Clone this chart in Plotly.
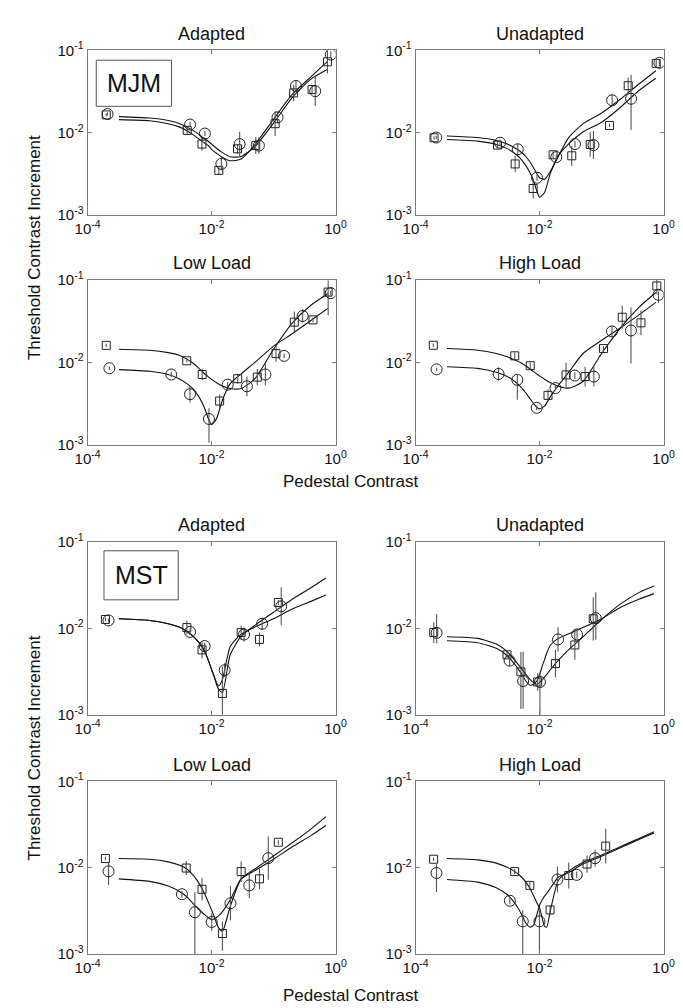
import plotly.graph_objects as go

# ---------------- data ----------------
# x grid at which the fitted curves were read off the picture
fit_x_mjm = [3.2e-4, 1e-3, 2e-3, 3e-3, 4e-3, 5e-3, 6e-3, 7e-3, 8e-3, 9e-3, 0.01, 0.012,
             0.015, 0.02, 0.03, 0.05, 0.1, 0.2, 0.4, 0.75]
fit_x_mst = [3.2e-4, 1e-3, 2e-3, 3e-3, 4e-3, 5e-3, 6e-3, 7e-3, 8e-3, 9e-3, 0.01, 0.011,
             0.012, 0.013, 0.015, 0.02, 0.03, 0.05, 0.1, 0.2, 0.4, 0.7]

# ---- MJM Adapted
mjm_ad_circ_x = [2.1e-4, 4.5e-3, 7.8e-3, 0.0144, 0.0284, 0.058, 0.116, 0.23, 0.47, 0.84]
mjm_ad_circ_y = [0.0169, 0.0126, 0.0098, 0.0042, 0.0073, 0.0070, 0.0154, 0.037, 0.032, 0.089]
mjm_ad_circ_eu = [0.02, 0.03, 0.03, 0.08, 0.15, 0.1, 0.07, 0.06, 0.18, 0.04]
mjm_ad_circ_ed = [0.02, 0.03, 0.03, 0.08, 0.15, 0.1, 0.07, 0.06, 0.18, 0.04]
mjm_ad_sq_x = [2.0e-4, 4.05e-3, 7.0e-3, 0.0131, 0.0262, 0.0516, 0.106, 0.211, 0.418, 0.741]
mjm_ad_sq_y = [0.0165, 0.0107, 0.0073, 0.0035, 0.0064, 0.0070, 0.0129, 0.0305, 0.0335, 0.0727]
mjm_ad_sq_eu = [0.02, 0.04, 0.08, 0.05, 0.06, 0.1, 0.15, 0.1, 0.04, 0.14]
mjm_ad_sq_ed = [0.02, 0.04, 0.08, 0.05, 0.06, 0.1, 0.15, 0.1, 0.04, 0.14]
mjm_ad_fit1 = [0.0157, 0.0151, 0.0141, 0.0130, 0.0118, 0.0107, 0.00977, 0.00891, 0.00837, 0.00778,
               0.00730, 0.00649, 0.00575, 0.00512, 0.00516, 0.00679, 0.0131, 0.0267, 0.0448, 0.0589]
mjm_ad_fit2 = [0.01445, 0.0140, 0.0129, 0.0118, 0.0106, 0.00950, 0.00861, 0.00793, 0.00737, 0.00692,
               0.00631, 0.00566, 0.00502, 0.00458, 0.00480, 0.00716, 0.0146, 0.0292, 0.0478, 0.0740]

# ---- MJM Unadapted
mjm_un_circ_x = [2.15e-4, 2.30e-3, 4.44e-3, 9.08e-3, 0.0186, 0.0372, 0.0738, 0.148, 0.299, 0.855]
mjm_un_circ_y = [0.00877, 0.00757, 0.00631, 0.00285, 0.00507, 0.0073, 0.0071, 0.0248, 0.0259, 0.0707]
mjm_un_circ_eu = [0.02, 0.04, 0.07, 0.04, 0.03, 0.04, 0.17, 0.07, 0.29, 0.04]
mjm_un_circ_ed = [0.02, 0.04, 0.07, 0.04, 0.03, 0.04, 0.17, 0.07, 0.38, 0.04]
mjm_un_sq_x = [1.98e-4, 2.09e-3, 4.03e-3, 7.87e-3, 0.0165, 0.033, 0.0655, 0.134, 0.2685, 0.76]
mjm_un_sq_y = [0.0087, 0.0071, 0.00419, 0.00211, 0.00541, 0.00526, 0.00723, 0.01228, 0.0373, 0.0695]
mjm_un_sq_eu = [0.02, 0.04, 0.1, 0.12, 0.04, 0.12, 0.15, 0.02, 0.1, 0.04]
mjm_un_sq_ed = [0.02, 0.04, 0.1, 0.12, 0.04, 0.12, 0.15, 0.02, 0.1, 0.04]
mjm_un_fit1 = [0.00916, 0.00877, 0.00807, 0.00730, 0.00654, 0.00586, 0.00516, 0.00442, 0.00375, 0.00321,
               0.00285, 0.00273, 0.00343, 0.00526, 0.00743, 0.01023, 0.01346, 0.0203, 0.0326, 0.0460]
mjm_un_fit2 = [0.00830, 0.00793, 0.00723, 0.00643, 0.00561, 0.00480, 0.00400, 0.00327, 0.00261, 0.00198,
               0.00165, 0.00189, 0.00327, 0.00516, 0.00891, 0.01285, 0.01738, 0.0255, 0.0391, 0.0567]

# ---- MJM Low Load
mjm_lo_circ_x = [2.25e-4, 2.24e-3, 4.49e-3, 9.08e-3, 0.0182, 0.0372, 0.0738, 0.148, 0.295, 0.836]
mjm_lo_circ_y = [0.00849, 0.00713, 0.00412, 0.00206, 0.00537, 0.00513, 0.00713, 0.0120, 0.0366, 0.0693]
mjm_lo_circ_eu = [0.02, 0.03, 0.1, 0.13, 0.03, 0.12, 0.13, 0.03, 0.08, 0.03]
mjm_lo_circ_ed = [0.02, 0.03, 0.1, 0.29, 0.03, 0.12, 0.13, 0.03, 0.08, 0.03]
mjm_lo_sq_x = [2.0e-4, 3.98e-3, 7.06e-3, 0.0135, 0.0264, 0.0547, 0.1094, 0.2163, 0.4325, 0.76]
mjm_lo_sq_y = [0.0161, 0.01047, 0.00713, 0.0034, 0.00634, 0.00663, 0.01279, 0.0308, 0.0328, 0.0713]
mjm_lo_sq_eu = [0.02, 0.02, 0.07, 0.08, 0.06, 0.1, 0.1, 0.13, 0.03, 0.14]
mjm_lo_sq_ed = [0.02, 0.02, 0.07, 0.08, 0.06, 0.1, 0.1, 0.13, 0.03, 0.28]
mjm_lo_fit1 = [0.01442, 0.01403, 0.01315, 0.01222, 0.01096, 0.00982, 0.00871, 0.00781, 0.00713, 0.00663,
               0.00622, 0.00567, 0.00518, 0.00482, 0.00482, 0.00634, 0.01442, 0.0299, 0.0494, 0.0681]
mjm_lo_fit2 = [0.00818, 0.00781, 0.00713, 0.00634, 0.00552, 0.00482, 0.00401, 0.00328, 0.00259, 0.00202,
               0.00176, 0.00207, 0.00350, 0.00552, 0.00726, 0.0100, 0.01578, 0.0223, 0.0322, 0.0452]

# ---- MJM High Load
mjm_hi_circ_x = [2.18e-4, 2.18e-3, 4.37e-3, 8.97e-3, 0.018, 0.037, 0.075, 0.147, 0.298, 0.826]
mjm_hi_circ_y = [0.00824, 0.00724, 0.00614, 0.00281, 0.00488, 0.00692, 0.00673, 0.0238, 0.0244, 0.0661]
mjm_hi_circ_eu = [0.02, 0.08, 0.06, 0.03, 0.03, 0.04, 0.12, 0.06, 0.28, 0.04]
mjm_hi_circ_ed = [0.02, 0.08, 0.24, 0.03, 0.03, 0.04, 0.12, 0.06, 0.40, 0.10]
mjm_hi_sq_x = [1.93e-4, 3.97e-3, 7.06e-3, 0.01365, 0.0267, 0.0542, 0.1074, 0.2155, 0.4315, 0.778]
mjm_hi_sq_y = [0.01614, 0.01202, 0.00912, 0.00398, 0.00705, 0.00673, 0.01472, 0.0353, 0.0302, 0.0847]
mjm_hi_sq_eu = [0.02, 0.04, 0.04, 0.07, 0.15, 0.12, 0.03, 0.14, 0.15, 0.1]
mjm_hi_sq_ed = [0.02, 0.04, 0.04, 0.07, 0.15, 0.12, 0.03, 0.14, 0.15, 0.1]
mjm_hi_fit1 = [0.01472, 0.01406, 0.01282, 0.01169, 0.01067, 0.00991, 0.00904, 0.00832, 0.00773, 0.00724,
               0.00686, 0.00625, 0.00565, 0.00515, 0.00488, 0.00586, 0.01282, 0.0261, 0.0466, 0.0705]
mjm_hi_fit2 = [0.00887, 0.00847, 0.00759, 0.00673, 0.00586, 0.00501, 0.00425, 0.00363, 0.00316, 0.00286,
               0.00273, 0.00294, 0.00387, 0.00525, 0.00773, 0.01282, 0.01854, 0.0261, 0.0377, 0.0535]

# ---- MST Adapted
mst_ad_circ_x = [2.18e-4, 4.50e-3, 7.73e-3, 0.01626, 0.0334, 0.0655, 0.133]
mst_ad_circ_y = [0.01233, 0.00908, 0.00624, 0.00327, 0.00847, 0.0113, 0.01795]
mst_ad_circ_eu = [0.02, 0.04, 0.04, 0.08, 0.08, 0.07, 0.22]
mst_ad_circ_ed = [0.02, 0.04, 0.04, 0.08, 0.08, 0.07, 0.22]
mst_ad_sq_x = [1.94e-4, 3.99e-3, 7.02e-3, 0.01496, 0.030, 0.0594, 0.1194]
mst_ad_sq_y = [0.01265, 0.01019, 0.00562, 0.00176, 0.00893, 0.00743, 0.0199]
mst_ad_sq_eu = [0.02, 0.08, 0.1, 0.31, 0.08, 0.08, 0.03]
mst_ad_sq_ed = [0.02, 0.08, 0.1, 0.6, 0.08, 0.08, 0.03]
mst_ad_fit1 = [0.01288, 0.01233, 0.01130, 0.01035, 0.00924, 0.00811, 0.00711, 0.00614, 0.00515, 0.00414,
               0.00333, 0.00275, 0.00225, 0.00197, 0.00181, 0.00493, 0.00811, 0.01081, 0.01535, 0.0217,
               0.0295, 0.0383]
mst_ad_fit2 = [0.01288, 0.01233, 0.01130, 0.01035, 0.00924, 0.00811, 0.00711, 0.00614, 0.00515, 0.00414,
               0.00333, 0.00280, 0.00235, 0.00215, 0.00256, 0.00614, 0.00855, 0.01035, 0.01288, 0.01671,
               0.0205, 0.0243]

# ---- MST Unadapted
mst_un_circ_x = [2.18e-4, 3.28e-3, 5.42e-3, 0.01012, 0.01982, 0.0402, 0.0805]
mst_un_circ_y = [0.00885, 0.00422, 0.00245, 0.00239, 0.00743, 0.00848, 0.01309]
mst_un_circ_eu = [0.22, 0.06, 0.34, 0.10, 0.14, 0.05, 0.30]
mst_un_circ_ed = [0.12, 0.06, 0.32, 0.60, 0.14, 0.05, 0.25]
mst_un_sq_x = [1.96e-4, 2.98e-3, 4.99e-3, 0.00931, 0.018, 0.037, 0.0733]
mst_un_sq_y = [0.00893, 0.00493, 0.00313, 0.00239, 0.0039, 0.00641, 0.01288]
mst_un_sq_eu = [0.12, 0.04, 0.23, 0.10, 0.16, 0.17, 0.25]
mst_un_sq_ed = [0.12, 0.04, 0.43, 0.10, 0.16, 0.17, 0.25]
mst_un_fit1 = [0.00798, 0.00764, 0.00658, 0.00538, 0.00425, 0.00348, 0.00292, 0.00256, 0.00235, 0.00225,
               0.00235, 0.00252, 0.00273, 0.00292, 0.00333, 0.00425, 0.00573, 0.00798, 0.01265, 0.01905,
               0.0259, 0.0308]
mst_un_fit2 = [0.00718, 0.00681, 0.00587, 0.00481, 0.00380, 0.00305, 0.00245, 0.00219, 0.00225, 0.00245,
               0.00292, 0.00364, 0.00433, 0.00515, 0.00641, 0.00764, 0.00869, 0.01019, 0.01288, 0.01746,
               0.0217, 0.0252]

# ---- MST Low Load
mst_lo_circ_x = [2.18e-4, 3.33e-3, 5.38e-3, 0.01007, 0.0202, 0.0406, 0.0823]
mst_lo_circ_y = [0.00908, 0.00493, 0.00305, 0.00235, 0.00387, 0.00624, 0.01288]
mst_lo_circ_eu = [0.10, 0.04, 0.23, 0.10, 0.20, 0.15, 0.25]
mst_lo_circ_ed = [0.16, 0.04, 0.80, 0.10, 0.20, 0.15, 0.25]
mst_lo_sq_x = [1.94e-4, 3.90e-3, 7.02e-3, 0.01496, 0.030, 0.0594, 0.1194]
mst_lo_sq_y = [0.01276, 0.00991, 0.00562, 0.00173, 0.00901, 0.00743, 0.0197]
mst_lo_sq_eu = [0.02, 0.08, 0.13, 0.14, 0.12, 0.12, 0.03]
mst_lo_sq_ed = [0.02, 0.08, 0.13, 0.20, 0.12, 0.12, 0.03]
mst_lo_fit1 = [0.01276, 0.01253, 0.01169, 0.01072, 0.00966, 0.00826, 0.00694, 0.00573, 0.00472, 0.00387,
               0.00324, 0.00273, 0.00229, 0.00201, 0.00184, 0.00354, 0.00743, 0.00966, 0.01368, 0.01941,
               0.0280, 0.0390]
mst_lo_fit2 = [0.00743, 0.00694, 0.00614, 0.00533, 0.00460, 0.00387, 0.00339, 0.00305, 0.00280, 0.00261,
               0.00250, 0.00254, 0.00265, 0.00277, 0.00310, 0.00422, 0.00743, 0.00925, 0.01253, 0.01746,
               0.0235, 0.0308]

# ---- MST High Load
mst_hi_circ_x = [2.17e-4, 3.31e-3, 5.35e-3, 9.93e-3, 0.0194, 0.0397, 0.0785]
mst_hi_circ_y = [0.00869, 0.00414, 0.00239, 0.00239, 0.00731, 0.00826, 0.01288]
mst_hi_circ_eu = [0.10, 0.04, 0.13, 0.13, 0.15, 0.04, 0.10]
mst_hi_circ_ed = [0.22, 0.04, 0.60, 0.60, 0.15, 0.04, 0.10]
mst_hi_sq_x = [1.95e-4, 3.96e-3, 6.95e-3, 0.01475, 0.0295, 0.0582, 0.1164]
mst_hi_sq_y = [0.01253, 0.00901, 0.00624, 0.00324, 0.00811, 0.01102, 0.01778]
mst_hi_sq_eu = [0.02, 0.03, 0.04, 0.05, 0.15, 0.10, 0.20]
mst_hi_sq_ed = [0.02, 0.03, 0.04, 0.05, 0.15, 0.10, 0.20]
mst_hi_fit1 = [0.01276, 0.01233, 0.01130, 0.01009, 0.00901, 0.00791, 0.00681, 0.00573, 0.00472, 0.00396,
               0.00339, 0.00261, 0.00210, 0.00205, 0.00324, 0.00711, 0.00925, 0.01151, 0.0140, 0.0175,
               0.0218, 0.0260]
mst_hi_fit2 = [0.00731, 0.00681, 0.00587, 0.00489, 0.00387, 0.00297, 0.00229, 0.00205, 0.00216, 0.00285,
               0.00370, 0.00422, 0.00468, 0.00502, 0.00582, 0.00776, 0.00885, 0.01102, 0.0136, 0.0170,
               0.0212, 0.0252]

panel_titles = ["Adapted", "Unadapted", "Low Load", "High Load",
                "Adapted", "Unadapted", "Low Load", "High Load"]
subject_labels = ["MJM", "MST"]
x_tickvals = [1e-4, 1e-2, 1]
x_ticktext = ["10<sup>-4</sup>", "10<sup>-2</sup>", "10<sup>0</sup>"]
y_tickvals = [1e-3, 1e-2, 1e-1]
y_ticktext = ["10<sup>-3</sup>", "10<sup>-2</sup>", "10<sup>-1</sup>"]
x_title = "Pedestal Contrast"
y_title = "Threshold Contrast Increment"

panels = [
    (fit_x_mjm, mjm_ad_circ_x, mjm_ad_circ_y, mjm_ad_circ_eu, mjm_ad_circ_ed,
     mjm_ad_sq_x, mjm_ad_sq_y, mjm_ad_sq_eu, mjm_ad_sq_ed, mjm_ad_fit1, mjm_ad_fit2),
    (fit_x_mjm, mjm_un_circ_x, mjm_un_circ_y, mjm_un_circ_eu, mjm_un_circ_ed,
     mjm_un_sq_x, mjm_un_sq_y, mjm_un_sq_eu, mjm_un_sq_ed, mjm_un_fit1, mjm_un_fit2),
    (fit_x_mjm, mjm_lo_circ_x, mjm_lo_circ_y, mjm_lo_circ_eu, mjm_lo_circ_ed,
     mjm_lo_sq_x, mjm_lo_sq_y, mjm_lo_sq_eu, mjm_lo_sq_ed, mjm_lo_fit1, mjm_lo_fit2),
    (fit_x_mjm, mjm_hi_circ_x, mjm_hi_circ_y, mjm_hi_circ_eu, mjm_hi_circ_ed,
     mjm_hi_sq_x, mjm_hi_sq_y, mjm_hi_sq_eu, mjm_hi_sq_ed, mjm_hi_fit1, mjm_hi_fit2),
    (fit_x_mst, mst_ad_circ_x, mst_ad_circ_y, mst_ad_circ_eu, mst_ad_circ_ed,
     mst_ad_sq_x, mst_ad_sq_y, mst_ad_sq_eu, mst_ad_sq_ed, mst_ad_fit1, mst_ad_fit2),
    (fit_x_mst, mst_un_circ_x, mst_un_circ_y, mst_un_circ_eu, mst_un_circ_ed,
     mst_un_sq_x, mst_un_sq_y, mst_un_sq_eu, mst_un_sq_ed, mst_un_fit1, mst_un_fit2),
    (fit_x_mst, mst_lo_circ_x, mst_lo_circ_y, mst_lo_circ_eu, mst_lo_circ_ed,
     mst_lo_sq_x, mst_lo_sq_y, mst_lo_sq_eu, mst_lo_sq_ed, mst_lo_fit1, mst_lo_fit2),
    (fit_x_mst, mst_hi_circ_x, mst_hi_circ_y, mst_hi_circ_eu, mst_hi_circ_ed,
     mst_hi_sq_x, mst_hi_sq_y, mst_hi_sq_eu, mst_hi_sq_ed, mst_hi_fit1, mst_hi_fit2),
]

# ---------------- layout geometry (pixels) ----------------
W, H = 683, 1008
COLS = [(69, 326), (409, 666)]
ROWS = [(32, 200), (266, 434), (533, 709), (777, 953)]
FONT = "Liberation Sans, Arial, Helvetica, sans-serif"
LINE_GRAY = "#7a7a7a"


def px(x):
    return x / W


def py(y):
    return 1 - y / H


fig = go.Figure()
layout_axes = {}
annotations = []

for i, p in enumerate(panels):
    (fx, cx, cy, ceu, ced, sx, sy, seu, sed, f1, f2) = p
    n = i + 1
    row, col = divmod(i, 2)
    xa = "x" if n == 1 else f"x{n}"
    ya = "y" if n == 1 else f"y{n}"

    for fy in (f1, f2):
        fig.add_trace(go.Scatter(
            x=fx, y=fy, mode="lines", xaxis=xa, yaxis=ya, showlegend=False,
            hoverinfo="skip",
            line=dict(color="#111111", width=1.1, shape="spline", smoothing=0.6)))

    for xs, ys, eu, ed, sym, size in ((sx, sy, seu, sed, "square-open", 8),
                                      (cx, cy, ceu, ced, "circle-open", 11)):
        plus = [y * (10 ** u - 1) for y, u in zip(ys, eu)]
        minus = [y * (1 - 10 ** (-d)) for y, d in zip(ys, ed)]
        fig.add_trace(go.Scatter(
            x=xs, y=ys, mode="markers", xaxis=xa, yaxis=ya, showlegend=False,
            marker=dict(symbol=sym, size=size, color="#222222",
                        line=dict(width=1, color="#222222")),
            error_y=dict(type="data", symmetric=False, array=plus, arrayminus=minus,
                         width=0, thickness=1.1, color="#555555")))

    x0, x1 = COLS[col]
    y0, y1 = ROWS[row]
    common = dict(type="log", showline=True, linecolor=LINE_GRAY, linewidth=1,
                  mirror="ticks", ticks="inside", ticklen=4, tickcolor=LINE_GRAY,
                  showgrid=False, zeroline=False, tickmode="array",
                  tickfont=dict(size=15, color="#111111", family=FONT))
    layout_axes["xaxis" if n == 1 else f"xaxis{n}"] = dict(
        common, range=[-4, 0], tickvals=x_tickvals, ticktext=x_ticktext,
        domain=[px(x0), px(x1)], anchor=ya)
    layout_axes["yaxis" if n == 1 else f"yaxis{n}"] = dict(
        common, range=[-3, -1], tickvals=y_tickvals, ticktext=y_ticktext,
        domain=[py(y1), py(y0)], anchor=xa)

    annotations.append(dict(text=panel_titles[i], x=px((x0 + x1) / 2), y=py(y0 - 17),
                            xref="paper", yref="paper", showarrow=False,
                            xanchor="center", yanchor="middle",
                            font=dict(size=18, color="#111111", family=FONT)))

# axis titles
for cy_, ty in ((233, 471), (743, 995)):
    annotations.append(dict(text=y_title, x=px(14), y=py(cy_), xref="paper", yref="paper",
                            showarrow=False, textangle=-90, xanchor="center", yanchor="middle",
                            font=dict(size=17, color="#111111", family=FONT)))
    annotations.append(dict(text=x_title, x=px(341), y=py(ty), xref="paper", yref="paper",
                            showarrow=False, xanchor="center", yanchor="middle",
                            font=dict(size=17, color="#111111", family=FONT)))

# subject label boxes
shapes = []
for label, (bx0, by0, bx1, by1) in zip(subject_labels, [(78, 42, 156, 89), (86, 542, 163, 592)]):
    shapes.append(dict(type="rect", xref="paper", yref="paper",
                       x0=px(bx0), x1=px(bx1), y0=py(by1), y1=py(by0),
                       line=dict(color="#555555", width=1), fillcolor="rgba(0,0,0,0)"))
    annotations.append(dict(text=label, x=px((bx0 + bx1) / 2), y=py((by0 + by1) / 2),
                            xref="paper", yref="paper", showarrow=False,
                            xanchor="center", yanchor="middle",
                            font=dict(size=25, color="#111111", family=FONT)))

fig.update_layout(
    width=W, height=H, margin=dict(l=0, r=0, t=0, b=0),
    paper_bgcolor="white", plot_bgcolor="white",
    font=dict(family=FONT, color="#111111"),
    annotations=annotations, shapes=shapes, showlegend=False,
    **layout_axes)

fig.write_html("out.html")
